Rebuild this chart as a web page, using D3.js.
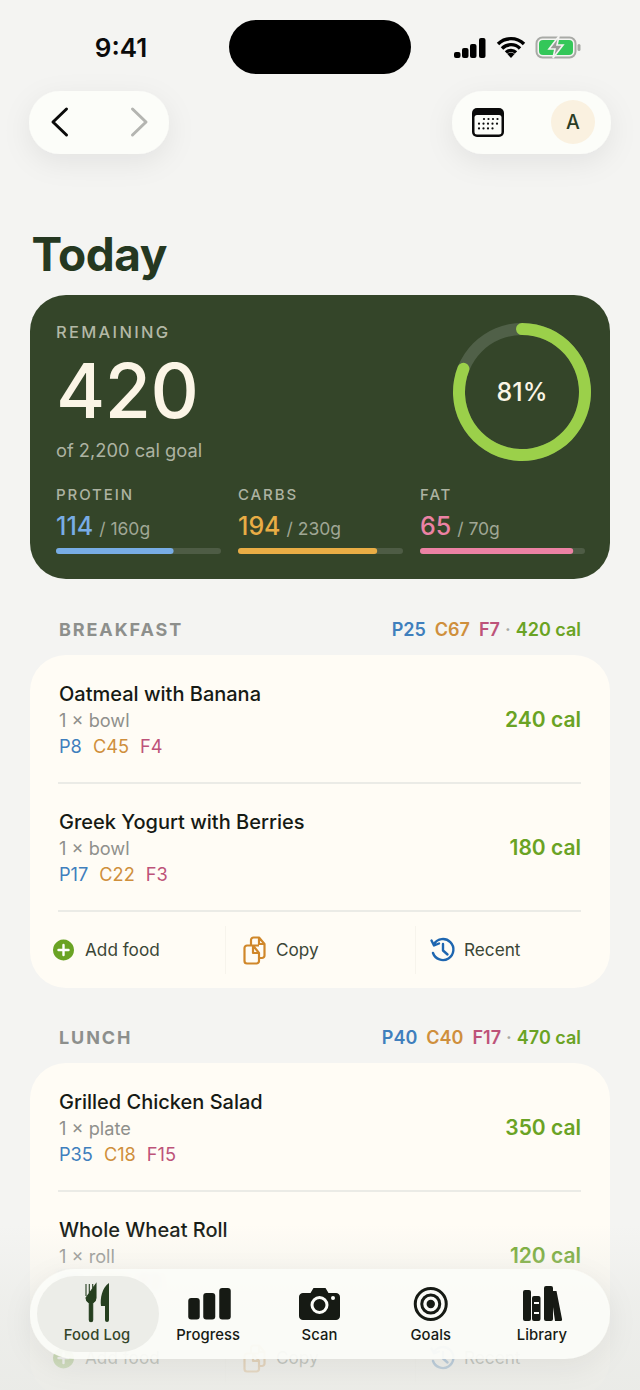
<!DOCTYPE html>
<html>
<head>
<meta charset="utf-8">
<script src="https://cdn.jsdelivr.net/npm/d3@7"></script>
<style>
html, body { margin: 0; padding: 0; background: #f4f4f2; }
svg { display: block; }
text { font-family: Inter, "Noto Sans", sans-serif; }
</style>
</head>
<body>
<script>
// values
var remaining = 420, goal = 2200, percentEaten = 81;
var macroNames = ["PROTEIN", "CARBS", "FAT"];
var macroEaten = [114, 194, 65];
var macroGoal = [160, 230, 70];
var mealNames = ["BREAKFAST", "LUNCH"];
var mealProtein = [25, 40];
var mealCarbs = [67, 40];
var mealFat = [7, 17];
var mealCals = [420, 470];
var foodMeal = [0, 0, 1, 1];
var foodNames = ["Oatmeal with Banana", "Greek Yogurt with Berries", "Grilled Chicken Salad", "Whole Wheat Roll"];
var foodServing = ["1 × bowl", "1 × bowl", "1 × plate", "1 × roll"];
var foodProtein = [8, 17, 35, 5];
var foodCarbs = [45, 22, 18, 22];
var foodFat = [4, 3, 15, 2];
var foodCals = [240, 180, 350, 120];
var actionNames = ["Add food", "Copy", "Recent"];
var tabNames = ["Food Log", "Progress", "Scan", "Goals", "Library"];

var macroLight = ["#78ade6", "#e9ad45", "#ec82a4"];
var proteinCol = "#3f7fbd", carbsCol = "#cf8f3c", fatCol = "#bd5379", calCol = "#6aa324";
var dark = "#253821", hero = "#344529";

var svg = d3.select("body").append("svg").attr("width", 640).attr("height", 1390);
var defs = svg.append("defs");

var sh = defs.append("filter").attr("id", "shadow").attr("x", "-40%").attr("y", "-60%").attr("width", "180%").attr("height", "260%");
sh.append("feDropShadow").attr("dx", 0).attr("dy", 8).attr("stdDeviation", 14).attr("flood-color", "#000").attr("flood-opacity", 0.07);
defs.append("filter").attr("id", "blur").append("feGaussianBlur").attr("stdDeviation", 3);
var fade = defs.append("linearGradient").attr("id", "fade").attr("x1", 0).attr("x2", 0).attr("y1", 0).attr("y2", 1);
fade.append("stop").attr("offset", 0).attr("stop-color", "#e9eae6").attr("stop-opacity", 0);
fade.append("stop").attr("offset", 0.45).attr("stop-color", "#e9eae6").attr("stop-opacity", 0.55);
fade.append("stop").attr("offset", 1).attr("stop-color", "#e9eae6").attr("stop-opacity", 0.88);

function label(g, x, y, str, size, weight, fill, anchor, spacing) {
  return g.append("text").attr("x", x).attr("y", y).text(str)
    .attr("font-size", size).attr("font-weight", weight).attr("fill", fill)
    .attr("text-anchor", anchor || "start").attr("letter-spacing", spacing || 0);
}
function pathAt(g, x, y, d, attrs) {
  var p = g.append("path").attr("transform", "translate(" + x + "," + y + ")").attr("d", d);
  Object.keys(attrs).forEach(function (k) { p.attr(k, attrs[k]); });
  return p;
}

// page content
var page = svg.append("g");
label(page, 31.5, 271, "Today", 46, 700, dark, "start", -0.5);

// hero card
page.append("rect").attr("x", 30).attr("y", 295).attr("width", 580).attr("height", 284).attr("rx", 36).attr("fill", hero);
label(page, 56, 338, "REMAINING", 16.5, 500, "#b3b8a6", "start", 2.3);
label(page, 56, 418, remaining, 75, 500, "#fbf5e6", "start", -0.5);
label(page, 56, 457, "of " + d3.format(",")(goal) + " cal goal", 18.3, 400, "#adb3a2");

// ring, the round ends stick out past the angle like a round line cap
var angle = d3.scaleLinear().domain([0, 100]).range([0, 2 * Math.PI]);
var capAngle = 0.095;
var arc = d3.arc().innerRadius(57).outerRadius(69).cornerRadius(6);
var ring = page.append("g").attr("transform", "translate(522,392)");
ring.append("path").attr("d", arc({ startAngle: 0, endAngle: angle(100) })).attr("fill", "#506048");
ring.append("path").attr("d", arc({ startAngle: -capAngle, endAngle: angle(percentEaten) + capAngle })).attr("fill", "#9bd04a");
label(ring, 0, 9, percentEaten + "%", 25, 500, "#fbf5e6", "middle");

// macro bars
var macroX = d3.scaleBand().domain(macroNames).range([56, 602]).paddingInner(0);
macroNames.forEach(function (name, i) {
  var x0 = macroX(name);
  var w = 165;
  var xs = d3.scaleLinear().domain([0, macroGoal[i]]).range([0, w]);
  var g = page.append("g");
  label(g, x0, 500, name, 15, 500, "#adb3a2", "start", 1.9);
  var t = label(g, x0, 535, macroEaten[i], 25, 500, macroLight[i]);
  t.append("tspan").attr("dx", 6).attr("font-size", 17.5).attr("font-weight", 400).attr("fill", "#a0a795").text("/ " + macroGoal[i] + "g");
  g.append("rect").attr("x", x0).attr("y", 548).attr("width", w).attr("height", 6).attr("rx", 3).attr("fill", "#4e5c45");
  g.append("rect").attr("x", x0).attr("y", 548).attr("width", xs(macroEaten[i])).attr("height", 6).attr("rx", 3).attr("fill", macroLight[i]);
});

function macroRow(g, x, y, size, weight, anchor, p, c, f, gap) {
  var t = g.append("text").attr("x", x).attr("y", y).attr("font-size", size).attr("font-weight", weight).attr("text-anchor", anchor);
  t.append("tspan").attr("fill", proteinCol).text("P" + p);
  t.append("tspan").attr("dx", gap).attr("fill", carbsCol).text("C" + c);
  t.append("tspan").attr("dx", gap).attr("fill", fatCol).text("F" + f);
  return t;
}

var mealTop = [655, 1063];
var mealHeight = 333;
var rowStep = 128;

var actionX = [85, 276, 464];
var dividerX = [225, 415];

var plusIcon = "M0 -10.5a10.5 10.5 0 1 0 .01 0Z";
var copyIcon = "M5 -4.5H-7a2.5 2.5 0 0 0 -2.5 2.5V11a2.5 2.5 0 0 0 2.5 2.5H2.5A2.5 2.5 0 0 0 5 11V3L-1 -4.5M-3 -4.5V-10a2.5 2.5 0 0 1 2.5 -2.5H5L10.5 -6V5.5A2.5 2.5 0 0 1 8 8H5M5 -12.5V-6H10.5M-1 -4.5V3H5";

mealNames.forEach(function (name, m) {
  var top = mealTop[m];
  label(page, 59, top - 19.5, name, 18, 700, "#8d8f8c", "start", 1.9);

  var h = page.append("text").attr("x", 581).attr("y", top - 19.5).attr("font-size", 18).attr("font-weight", 600).attr("text-anchor", "end");
  h.append("tspan").attr("fill", proteinCol).text("P" + mealProtein[m]);
  h.append("tspan").attr("dx", 9).attr("fill", carbsCol).text("C" + mealCarbs[m]);
  h.append("tspan").attr("dx", 9).attr("fill", fatCol).text("F" + mealFat[m]);
  h.append("tspan").attr("dx", 5).attr("fill", "#a9aba6").text("·");
  h.append("tspan").attr("dx", 5).attr("fill", calCol).text(mealCals[m] + " cal");

  page.append("rect").attr("x", 30).attr("y", top).attr("width", 580).attr("height", mealHeight).attr("rx", 36).attr("fill", "#fffcf5");

  var foods = d3.range(foodNames.length).filter(function (i) { return foodMeal[i] === m; });
  foods.forEach(function (i, r) {
    var y = top + r * rowStep;
    label(page, 59, y + 46, foodNames[i], 20, 500, "#161a14");
    label(page, 59, y + 72, foodServing[i], 18.2, 400, "#8f908c");
    var row = macroRow(page, 59, y + 97.5, 18.2, 400, "start", foodProtein[i], foodCarbs[i], foodFat[i], 11);
    if (m === 1 && r === 1) row.attr("filter", "url(#blur)");
    label(page, 581, y + 72, foodCals[i] + " cal", 21, 600, calCol, "end");
    page.append("rect").attr("x", 58).attr("y", y + 127).attr("width", 523).attr("height", 2).attr("fill", "#ebebe6");
  });

  // action row
  var ay = top + 295;
  dividerX.forEach(function (x) {
    page.append("rect").attr("x", x).attr("y", ay - 24).attr("width", 1).attr("height", 48).attr("fill", "#f7f4ec");
  });
  actionNames.forEach(function (a, i) {
    label(page, actionX[i], ay + 6, a, 17.2, 400, "#3b4636");
  });
  pathAt(page, 63.5, ay, plusIcon, { fill: calCol });
  pathAt(page, 63.5, ay, "M0 -5V5M-5 0H5", { stroke: "#fff", "stroke-width": 2.4, fill: "none", "stroke-linecap": "round" });
  pathAt(page, 254, ay, copyIcon, { fill: "none", stroke: "#d0872a", "stroke-width": 2.2, "stroke-linejoin": "round" });
  pathAt(page, 443, ay, "M-9 -6A10.5 10.5 0 1 1 -10 3M-11.5 -9.5L-9 -4.5L-4 -6.5M0 -6V0.5L4.5 4.5", { fill: "none", stroke: "#1e66b0", "stroke-width": 2.4, "stroke-linecap": "round", "stroke-linejoin": "round" });
});

// scrim over the bottom of the page
svg.append("rect").attr("x", 0).attr("y", 1225).attr("width", 640).attr("height", 165).attr("fill", "url(#fade)");

// status bar
var statusBar = svg.append("g");
label(statusBar, 121, 57, "9:41", 26, 600, "#0b0b0b", "middle");
statusBar.append("rect").attr("x", 229).attr("y", 20).attr("width", 182).attr("height", 54).attr("rx", 27).attr("fill", "#000");
[[454, 52], [462, 48], [470, 44], [479, 38]].forEach(function (b) {
  statusBar.append("rect").attr("x", b[0]).attr("y", b[1]).attr("width", 6.5).attr("height", 58 - b[1]).attr("rx", 2).attr("fill", "#000");
});
pathAt(statusBar, 511, 58, "M-13 -14A18.5 18.5 0 0 1 13 -14M-9 -9.5A12.5 12.5 0 0 1 9 -9.5M-5 -5.5A7 7 0 0 1 5 -5.5", { fill: "none", stroke: "#000", "stroke-width": 3.4 });
pathAt(statusBar, 511, 58, "M0 0L-3.6 -4A5 5 0 0 1 3.6 -4Z", { fill: "#000" });
statusBar.append("rect").attr("x", 536.5).attr("y", 37.5).attr("width", 39).attr("height", 20).attr("rx", 6).attr("fill", "none").attr("stroke", "#a8aaa6").attr("stroke-width", 2);
statusBar.append("rect").attr("x", 539).attr("y", 40).attr("width", 34).attr("height", 15).attr("rx", 4).attr("fill", "#34c759");
statusBar.append("rect").attr("x", 577.5).attr("y", 44).attr("width", 3).attr("height", 7).attr("rx", 1.5).attr("fill", "#a8aaa6");
pathAt(statusBar, 556, 47, "M3 -11L-7 2H-1L-3 11L7 -2H1Z", { fill: "#9a9c98", stroke: "#f4f4f2", "stroke-width": 1.6 });

// nav pills
var nav = svg.append("g");
nav.append("rect").attr("x", 29).attr("y", 91).attr("width", 140).attr("height", 63).attr("rx", 31).attr("fill", "#fcfdf9").attr("filter", "url(#shadow)");
nav.append("rect").attr("x", 452).attr("y", 91).attr("width", 159).attr("height", 63).attr("rx", 31).attr("fill", "#fcfdf9").attr("filter", "url(#shadow)");
pathAt(nav, 60, 122, "M6.5 -13L-7 0L6.5 13", { fill: "none", stroke: "#0b0b0b", "stroke-width": 3, "stroke-linecap": "round", "stroke-linejoin": "round" });
pathAt(nav, 139, 122, "M-6.5 -13L7 0L-6.5 13", { fill: "none", stroke: "#b4b5b1", "stroke-width": 3, "stroke-linecap": "round", "stroke-linejoin": "round" });
nav.append("rect").attr("x", 472).attr("y", 108).attr("width", 32).attr("height", 29).attr("rx", 5).attr("fill", "#0b0b0b");
nav.append("rect").attr("x", 474.5).attr("y", 115).attr("width", 27).attr("height", 19.5).attr("rx", 2.5).attr("fill", "#fcfdf9");
[[484, 4], [479, 5], [479, 4]].forEach(function (r, j) {
  d3.range(r[1]).forEach(function (c) {
    nav.append("circle").attr("cx", r[0] + c * 4.5).attr("cy", 119 + j * 4.7).attr("r", 1.1).attr("fill", "#0b0b0b");
  });
});
nav.append("circle").attr("cx", 573).attr("cy", 122).attr("r", 22).attr("fill", "#faf1e0");
label(nav, 573, 129, "A", 19.5, 500, "#2b3d25", "middle");

// tab bar
var tabs = svg.append("g");
tabs.append("rect").attr("x", 30).attr("y", 1269).attr("width", 580).attr("height", 90).attr("rx", 45).attr("fill", "#fcfdf9").attr("fill-opacity", 0.92).attr("filter", "url(#shadow)");
tabs.append("rect").attr("x", 37).attr("y", 1276).attr("width", 122).attr("height", 76).attr("rx", 38).attr("fill", "#ecede8");
var tabX = d3.scalePoint().domain(tabNames).range([97, 542]);
tabNames.forEach(function (n, i) {
  label(tabs, tabX(n), 1340, n, 14.8, 500, i === 0 ? "#344529" : "#161a14", "middle", 0.1);
});
// fork and knife
pathAt(tabs, 91, 1303, "M-5 -19V-7M-1.7 -19V-7M1.7 -19V-7M5 -19V-5C5 -2 3 -1 1.7 0V17A1.7 1.7 0 0 1 -1.7 17V0C-3 -1 -5 -2 -5 -5Z", { fill: "#253f1f", stroke: "#253f1f", "stroke-width": 1.1 });
pathAt(tabs, 105, 1303, "M4 -20C-3 -15 -5 -5 -4 3H0V17A2 2 0 0 0 4 17Z", { fill: "#253f1f" });
// bars
var t2 = tabX("Progress");
[[-20, 1298, 11.5], [-5, 1293, 12], [11, 1288, 11.5]].forEach(function (b) {
  tabs.append("rect").attr("x", t2 + b[0]).attr("y", b[1]).attr("width", b[2]).attr("height", 1319.5 - b[1]).attr("rx", 3).attr("fill", "#161a14");
});
// camera
var t3 = tabX("Scan");
pathAt(tabs, t3, 1304, "M-16 -11H-9L-6 -16H6L9 -11H16A4 4 0 0 1 20.5 -7V12A4 4 0 0 1 16 16H-16A4 4 0 0 1 -20.5 12V-7A4 4 0 0 1 -16 -11Z", { fill: "#161a14" });
tabs.append("circle").attr("cx", t3).attr("cy", 1305).attr("r", 7.5).attr("fill", "none").attr("stroke", "#fcfdf9").attr("stroke-width", 3);
tabs.append("circle").attr("cx", t3 + 13.5).attr("cy", 1298).attr("r", 2).attr("fill", "#fcfdf9");
// target
var t4 = tabX("Goals");
[[15.5, 3], [9, 3]].forEach(function (c) {
  tabs.append("circle").attr("cx", t4).attr("cy", 1304).attr("r", c[0]).attr("fill", "none").attr("stroke", "#161a14").attr("stroke-width", c[1]);
});
tabs.append("circle").attr("cx", t4).attr("cy", 1304).attr("r", 4.2).attr("fill", "#161a14");
// books
var t5 = tabX("Library");
[[-19, 1290, 8], [-10, 1296, 8.5], [2, 1286, 9]].forEach(function (b) {
  tabs.append("rect").attr("x", t5 + b[0]).attr("y", b[1]).attr("width", b[2]).attr("height", 1321 - b[1]).attr("rx", 2).attr("fill", "#161a14");
});
pathAt(tabs, t5, 0, "M10 1291H14.5L20 1319A1.5 1.5 0 0 1 18.5 1321H13L10 1300Z", { fill: "#161a14" });
tabs.append("rect").attr("x", t5 - 8).attr("y", 1302).attr("width", 5).attr("height", 2).attr("fill", "#fcfdf9");
tabs.append("rect").attr("x", t5 - 8).attr("y", 1312).attr("width", 5).attr("height", 2).attr("fill", "#fcfdf9");
</script>
</body>
</html>
